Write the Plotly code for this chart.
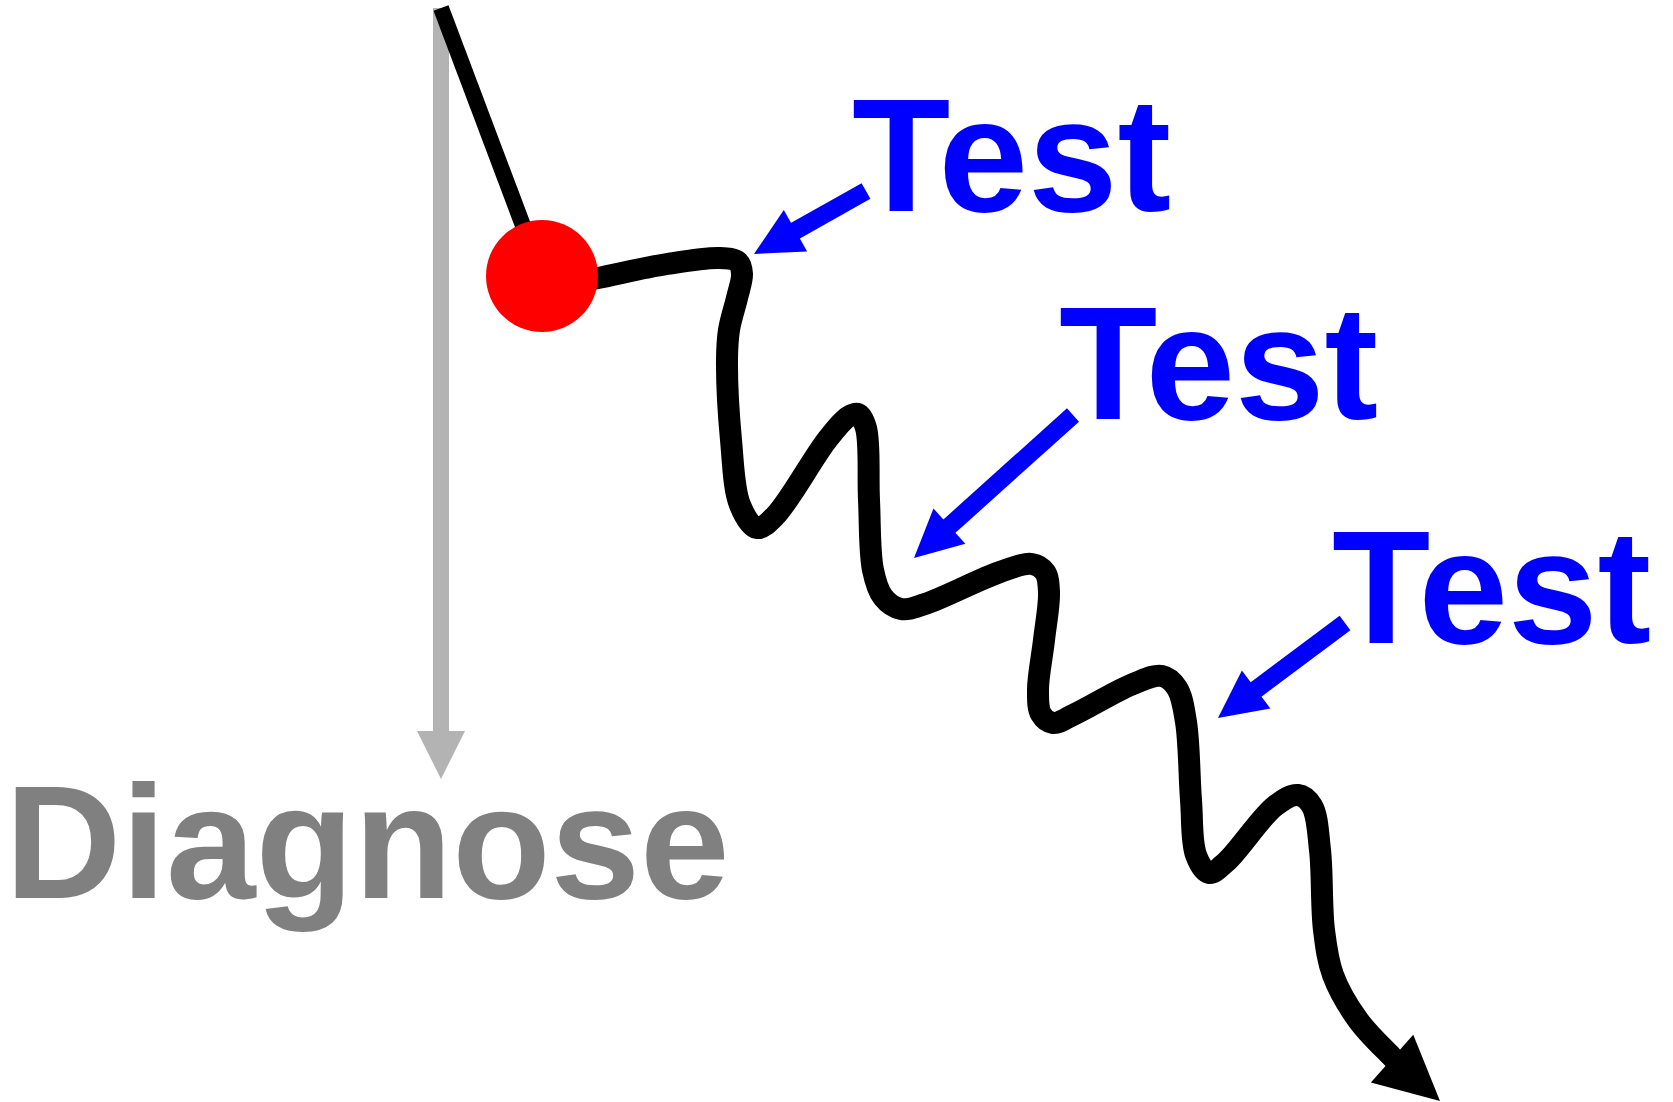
import math
import plotly.graph_objects as go

W, H = 1673, 1102

# ---- data (pixel-space diagram coordinates, y downward) ----
gray_x = [441, 441]
gray_y = [8, 760]
gray_head_tip = (441, 779)

stick_x = [441, 542]
stick_y = [8, 276]

ball_x = [542]
ball_y = [276]

curve_x = [548, 598, 667, 720, 738, 742, 737, 729, 727, 731, 740, 757,
           775, 827, 848, 858, 866, 869, 873, 883, 901,
           925, 1000, 1032, 1045, 1049, 1044, 1038, 1041, 1053,
           1075, 1133, 1162, 1177, 1186, 1191, 1196, 1209,
           1226, 1275, 1298, 1312, 1320, 1324, 1333, 1358, 1392, 1404]
curve_y = [288, 278, 264, 258, 262, 274, 298, 330, 360, 440, 505, 528,
           516, 440, 417, 414, 428, 500, 570, 597, 609,
           604, 572, 564, 572, 592, 640, 690, 714, 723,
           714, 684, 676, 688, 722, 800, 855, 873,
           862, 806, 795, 806, 850, 930, 975, 1020, 1057, 1069]
end_dir_from = (1392.5, 1059)
end_tip = (1440, 1101)

blue_tail_x = [866, 1073, 1345]
blue_tail_y = [191, 415, 623]
blue_tip_x = [754, 914, 1218]
blue_tip_y = [254, 558, 718]

test_labels = ["Test", "Test", "Test"]
test_x = [852, 1059, 1332]
test_y = [65.3, 273.3, 497.3]

diag_label = "Diagnose"
diag_pos = (5, 752.3)

FONT = "Liberation Sans, Arial, Helvetica, sans-serif"
FSIZE = 161


def unit(ax, ay, bx, by):
    dx, dy = bx - ax, by - ay
    n = math.hypot(dx, dy)
    return dx / n, dy / n


fig = go.Figure()
fig.add_trace(go.Scatter(x=gray_x, y=gray_y, mode="lines",
                         line=dict(color="#b3b3b3", width=16), hoverinfo="skip"))
fig.add_trace(go.Scatter(x=stick_x, y=stick_y, mode="lines",
                         line=dict(color="black", width=16), hoverinfo="skip"))
fig.add_trace(go.Scatter(x=curve_x, y=curve_y, mode="lines",
                         line=dict(color="black", width=22, shape="spline", smoothing=1.0,
                                   simplify=False),
                         hoverinfo="skip"))
fig.add_trace(go.Scatter(x=ball_x, y=ball_y, mode="markers",
                         marker=dict(color="#ff0000", size=112, line=dict(width=0)),
                         hoverinfo="skip"))

# blue arrow shafts (end inside the head)
for tx, ty, hx, hy in zip(blue_tail_x, blue_tail_y, blue_tip_x, blue_tip_y):
    ux, uy = unit(tx, ty, hx, hy)
    fig.add_trace(go.Scatter(x=[tx, hx - 38 * ux], y=[ty, hy - 38 * uy], mode="lines",
                             line=dict(color="#0000ff", width=18), hoverinfo="skip"))

ann = []
# gray arrow head
ann.append(dict(x=gray_head_tip[0], y=gray_head_tip[1], ax=gray_head_tip[0], ay=gray_head_tip[1] - 40,
                xref="x", yref="y", axref="x", ayref="y", text="", showarrow=True,
                arrowhead=2, arrowwidth=4, arrowsize=2.4, arrowcolor="#b3b3b3",
                font=dict(size=1)))
# black curve arrow head
ux, uy = unit(end_dir_from[0], end_dir_from[1], end_tip[0], end_tip[1])
ann.append(dict(x=end_tip[0], y=end_tip[1], ax=end_tip[0] - 55 * ux, ay=end_tip[1] - 55 * uy,
                xref="x", yref="y", axref="x", ayref="y", text="", showarrow=True,
                arrowhead=2, arrowwidth=4, arrowsize=3.2, arrowcolor="black",
                font=dict(size=1)))
# blue arrow heads
for tx, ty, hx, hy in zip(blue_tail_x, blue_tail_y, blue_tip_x, blue_tip_y):
    ux, uy = unit(tx, ty, hx, hy)
    ann.append(dict(x=hx, y=hy, ax=hx - 40 * ux, ay=hy - 40 * uy,
                    xref="x", yref="y", axref="x", ayref="y", text="", showarrow=True,
                    arrowhead=2, arrowwidth=4, arrowsize=2.38, arrowcolor="#0000ff",
                    font=dict(size=1)))
# labels
for lab, lx, ly in zip(test_labels, test_x, test_y):
    ann.append(dict(x=lx, y=ly, xref="x", yref="y", text=lab, showarrow=False,
                    xanchor="left", yanchor="top", borderpad=0, borderwidth=0,
                    font=dict(family=FONT, size=FSIZE, color="#0000ff", weight="bold")))
ann.append(dict(x=diag_pos[0], y=diag_pos[1], xref="x", yref="y", text=diag_label, showarrow=False,
                xanchor="left", yanchor="top", borderpad=0, borderwidth=0,
                font=dict(family=FONT, size=FSIZE, color="#808080", weight="bold")))

fig.update_layout(
    width=W, height=H, autosize=False,
    margin=dict(l=0, r=0, t=0, b=0, pad=0),
    paper_bgcolor="white", plot_bgcolor="white",
    showlegend=False, hovermode=False,
    xaxis=dict(range=[0, W], visible=False, fixedrange=True),
    yaxis=dict(range=[H, 0], visible=False, fixedrange=True),
    annotations=ann,
)

fig.write_html("out.html", config={"displayModeBar": False},
               post_script="document.body.style.margin='0';document.body.style.overflow='hidden';")
